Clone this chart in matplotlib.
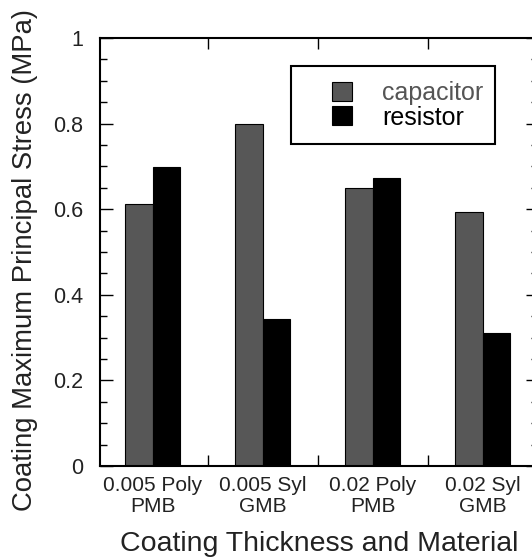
import numpy as np
import matplotlib.pyplot as plt
from matplotlib.ticker import MultipleLocator, FixedLocator
from matplotlib.patches import Rectangle

# data
groups = ['0.005 Poly\nPMB', '0.005 Syl\nGMB', '0.02 Poly\nPMB', '0.02 Syl\nGMB']
capacitor = [0.612, 0.799, 0.650, 0.593]
resistor = [0.699, 0.343, 0.673, 0.311]

plt.rcParams['font.family'] = ['Liberation Sans', 'DejaVu Sans']
txt = '#222222'

fig = plt.figure(figsize=(5.32, 5.59), dpi=100)
ax = fig.add_axes([100 / 532, 93 / 559, 438 / 532, 428 / 559])

x = np.arange(1, len(groups) + 1)
w = 0.25
ax.bar(x - w / 2, capacitor, w, color='#575757', edgecolor='black', linewidth=0.8, label='capacitor')
ax.bar(x + w / 2, resistor, w, color='black', edgecolor='black', linewidth=0.8, label='resistor')

ax.set_xlim(0.52, 4.5)
ax.set_ylim(0, 1)

# y ticks
ax.set_yticks([0, 0.2, 0.4, 0.6, 0.8, 1.0])
ax.set_yticklabels(['0', '0.2', '0.4', '0.6', '0.8', '1'], fontsize=15.5, color=txt)
ax.yaxis.set_minor_locator(MultipleLocator(0.05))

# x: labels at groups, ticks between groups
ax.set_xticks(x)
ax.set_xticklabels(groups, fontsize=15, color=txt, linespacing=1.15)
ax.xaxis.set_minor_locator(FixedLocator([1.5, 2.5, 3.5]))
ax.tick_params(axis='x', which='major', length=0, pad=7)
ax.tick_params(axis='x', which='minor', direction='in', length=8, width=1, top=True, bottom=True)
ax.tick_params(axis='y', which='major', direction='in', length=9, width=1, right=True, pad=12)
ax.tick_params(axis='y', which='minor', direction='in', length=5, width=1, right=True)

for s in ax.spines.values():
    s.set_linewidth(1.5)

ax.set_xlabel('Coating Thickness and Material', fontsize=20.5, color=txt, labelpad=11)
ax.set_ylabel('Coating Maximum Principal Stress (MPa)', fontsize=19.8, color=txt)
ax.yaxis.set_label_coords(-0.142, (466 - 260) / 428)

# legend: no frame from matplotlib, the box is drawn separately
leg = ax.legend(loc='upper left', bbox_to_anchor=(0.530, 0.8995), fontsize=18,
                frameon=False, borderpad=0, handlelength=0.8, handleheight=0.8,
                handletextpad=1.2, labelspacing=0.02, borderaxespad=0)
leg.get_texts()[0].set_color('#555555')
ax.add_patch(Rectangle((0.436, 0.752), 0.466, 0.183, transform=ax.transAxes,
                       fill=False, edgecolor='black', linewidth=1.5, zorder=5))

fig.savefig('out.png', dpi=100)
